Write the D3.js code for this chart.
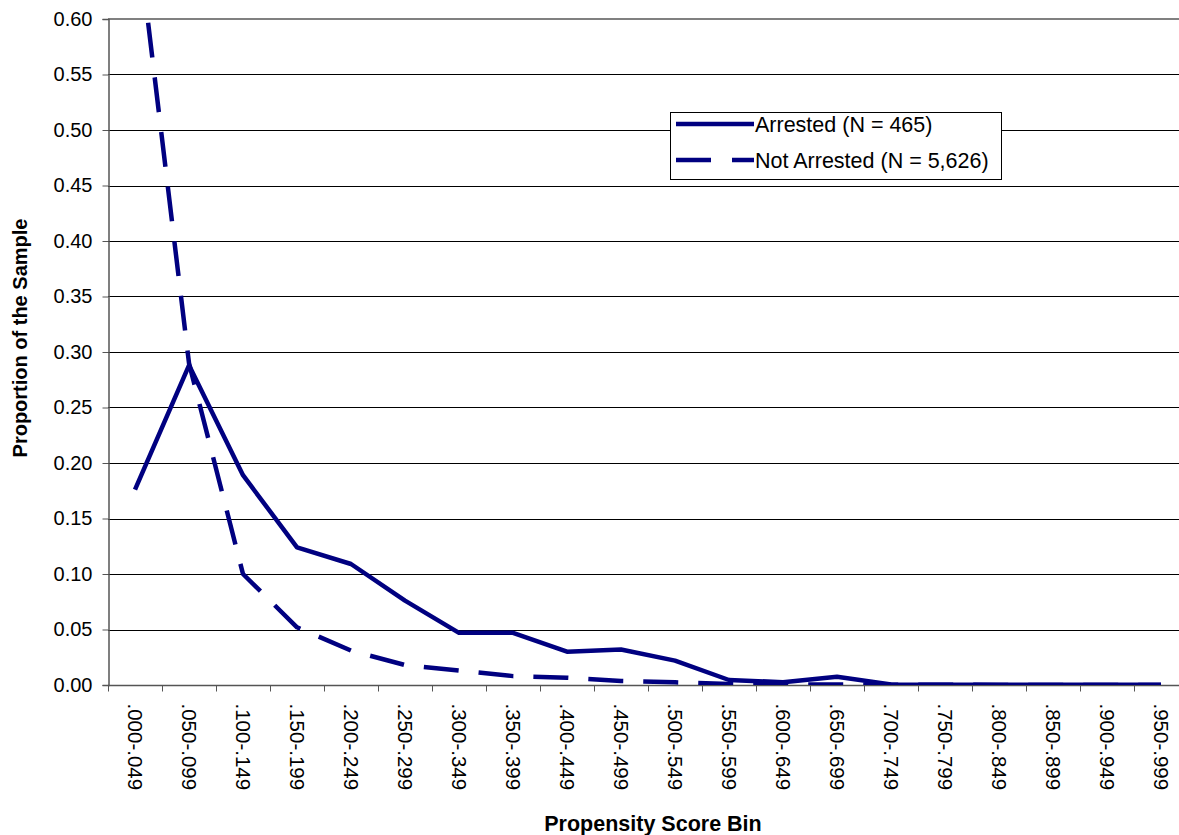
<!DOCTYPE html>
<html>
<head>
<meta charset="utf-8">
<script src="https://cdn.jsdelivr.net/npm/d3@7"></script>
<style>
  html, body { margin: 0; padding: 0; background: #fff; }
  svg { display: block; font-family: "Liberation Sans", Arial, sans-serif; }
</style>
</head>
<body>
<svg id="chart" width="1179" height="835"></svg>
<script>
const categories = [".000-.049", ".050-.099", ".100-.149", ".150-.199", ".200-.249",
  ".250-.299", ".300-.349", ".350-.399", ".400-.449", ".450-.499", ".500-.549",
  ".550-.599", ".600-.649", ".650-.699", ".700-.749", ".750-.799", ".800-.849",
  ".850-.899", ".900-.949", ".950-.999"];
const arrested = [0.176, 0.288, 0.189, 0.124, 0.109, 0.076, 0.047, 0.047, 0.030, 0.032,
  0.022, 0.0045, 0.0025, 0.0075, 0.0005, 0.0003, 0.0002, 0.0003, 0.0003, 0.0002];
const notArrested = [0.695, 0.290, 0.100, 0.052, 0.031, 0.018, 0.013, 0.008, 0.0065, 0.0036,
  0.0024, 0.001, 0.0005, 0.0004, 0.0002, 0.0002, 0.0001, 0.0001, 0.0001, 0.0001];
const yTicks = [0, 0.05, 0.10, 0.15, 0.20, 0.25, 0.30, 0.35, 0.40, 0.45, 0.50, 0.55, 0.60];
const legendLabels = ["Arrested (N = 465)", "Not Arrested (N = 5,626)"];
const xTitle = "Propensity Score Bin";
const yTitle = "Proportion of the Sample";

const svg = d3.select("#chart");
const L = 108, R = 1188, T = 19, B = 685;
const navy = "#000080";

const x = d3.scalePoint().domain(categories).range([L, R]).padding(0.5);
const xBand = d3.scaleBand().domain(categories).range([L, R]);
const y = d3.scaleLinear().domain([0, 0.6]).range([B, T]);

// gridlines
svg.append("g").selectAll("line").data(yTicks.filter(d => d > 0 && d < 0.6)).join("line")
  .attr("x1", L).attr("x2", R)
  .attr("y1", d => Math.round(y(d)) + 0.5).attr("y2", d => Math.round(y(d)) + 0.5)
  .attr("stroke", "#000").attr("stroke-width", 1);
// top border of plot area
svg.append("line").attr("x1", L).attr("x2", R).attr("y1", y(0.6)).attr("y2", y(0.6))
  .attr("stroke", "#808080").attr("stroke-width", 2);

// y axis
const yAxis = d3.axisLeft(y).tickValues(yTicks).tickFormat(d3.format(".2f")).tickSize(6).tickPadding(10);
const gy = svg.append("g").attr("transform", `translate(${L + 0.5},0)`).call(yAxis);
gy.select(".domain").attr("stroke", "#555").attr("stroke-width", 1.5);
gy.selectAll(".tick line").attr("stroke", "#555");
gy.selectAll(".tick text").attr("font-size", 20).attr("fill", "#000")
  .attr("font-family", "Liberation Sans, Arial, sans-serif");

// x axis: ticks at category boundaries
const gx = svg.append("g").attr("transform", `translate(0,${B + 0.5})`);
gx.append("line").attr("x1", L).attr("x2", R).attr("stroke", "#555").attr("stroke-width", 1.5);
const boundaries = categories.map(c => xBand(c)).concat([R]);
gx.selectAll("line.tk").data(boundaries).join("line").attr("class", "tk")
  .attr("x1", d => Math.round(d) + 0.5).attr("x2", d => Math.round(d) + 0.5)
  .attr("y1", 0).attr("y2", 6).attr("stroke", "#555");
gx.selectAll("text").data(categories).join("text")
  .attr("transform", d => `translate(${x(d)},${18}) rotate(90)`)
  .attr("dy", "0.35em")
  .attr("text-anchor", "start")
  .attr("font-size", 20.5)
  .attr("fill", "#000")
  .text(d => d);

// clip
svg.append("defs").append("clipPath").attr("id", "plotclip")
  .append("rect").attr("x", L).attr("y", T).attr("width", R - L).attr("height", B - T);

const line = d3.line().x((d, i) => x(categories[i])).y(d => y(d));

svg.append("path").datum(notArrested)
  .attr("clip-path", "url(#plotclip)")
  .attr("d", line).attr("fill", "none").attr("stroke", navy).attr("stroke-width", 4.5)
  .attr("stroke-dasharray", "35,20").attr("stroke-linejoin", "round");
svg.append("path").datum(arrested)
  .attr("clip-path", "url(#plotclip)")
  .attr("d", line).attr("fill", "none").attr("stroke", navy).attr("stroke-width", 4.5)
  .attr("stroke-linejoin", "round");

// legend
const lg = svg.append("g");
lg.append("rect").attr("x", 670.5).attr("y", 112.5).attr("width", 331).attr("height", 67)
  .attr("fill", "#fff").attr("stroke", "#000").attr("stroke-width", 1);
const rows = [{dash: null, yy: 124}, {dash: "35,21", yy: 160}];
rows.forEach((r, i) => {
  const l = lg.append("line").attr("x1", 676).attr("x2", 754).attr("y1", r.yy).attr("y2", r.yy)
    .attr("stroke", navy).attr("stroke-width", 4.5);
  if (r.dash) l.attr("stroke-dasharray", r.dash);
  lg.append("text").attr("x", 755).attr("y", r.yy).attr("dy", "0.36em")
    .attr("font-size", 21.5).attr("fill", "#000").text(legendLabels[i]);
});

// titles
svg.append("text").attr("x", 653).attr("y", 831).attr("text-anchor", "middle")
  .attr("font-size", 21.5).attr("font-weight", "bold").text(xTitle);
svg.append("text").attr("transform", "translate(27,338) rotate(-90)").attr("text-anchor", "middle")
  .attr("font-size", 20).attr("font-weight", "bold").text(yTitle);
</script>
</body>
</html>
